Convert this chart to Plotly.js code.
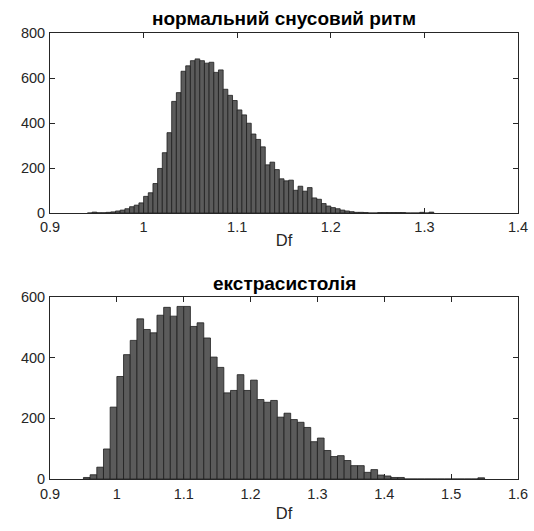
<!DOCTYPE html>
<html>
<head>
<meta charset="utf-8">
<script src="https://cdn.plot.ly/plotly-3.0.1.min.js"></script>
<style>
  html, body { margin: 0; padding: 0; background: #ffffff; }
  #chart { width: 534px; height: 531px; }
</style>
</head>
<body>
<div id="chart"></div>
<script>
// ---- data ----
// Normal sinus rhythm: histogram of Df, bins of 0.005 starting at 0.94
const normTitle = "нормальний снусовий ритм";
const normBinStart = 0.94;
const normBinWidth = 0.005;
const normCounts = [
  0, 4, 1, 1, 3, 5, 9, 13, 19, 28,
  35, 45, 74, 90, 131, 198, 268, 357, 496, 535,
  630, 654, 677, 685, 677, 666, 670, 625, 636, 550,
  523, 500, 458, 436, 399, 351, 327, 294, 214, 226,
  193, 152, 143, 146, 101, 119, 97, 113, 67, 61,
  42, 31, 24, 19, 13, 9, 6, 3, 3, 2,
  0, 0, 2, 2, 2, 2, 2, 2, 0, 0,
  0, 3, 0, 4
];

// Extrasystole: histogram of Df, bins of 0.01 starting at 0.95
const extraTitle = "екстрасистолія";
const extraBinStart = 0.95;
const extraBinWidth = 0.01;
const extraCounts = [
  5, 14, 39, 99, 237, 338, 410, 457, 528, 493,
  482, 540, 566, 537, 569, 569, 503, 515, 465, 402,
  368, 284, 292, 344, 292, 326, 262, 253, 259, 204,
  217, 196, 187, 170, 123, 135, 94, 74, 77, 61,
  44, 44, 22, 31, 13, 10, 5, 5, 0, 0,
  0, 0, 0, 0, 0, 0, 0, 0, 0, 4
];

const xLabel = "Df";
const normXRange = [0.9, 1.4];
const normYRange = [0, 800];
const extraXRange = [0.9, 1.6];
const extraYRange = [0, 600];

// ---- build bins ----
function centers(start, width, counts) {
  return counts.map((_, i) => +(start + width * (i + 0.5)).toFixed(6));
}

const barFill = "#5b5b5b";
const barEdge = "#1e1e1e";
const axisColor = "#262626";
const fontFamily = "Liberation Sans, Arial, Helvetica, sans-serif";

const traces = [
  {
    type: "bar",
    x: centers(normBinStart, normBinWidth, normCounts),
    y: normCounts,
    width: normBinWidth,
    marker: { color: barFill, line: { color: barEdge, width: 0.8 } },
    xaxis: "x", yaxis: "y",
    hoverinfo: "x+y"
  },
  {
    type: "bar",
    x: centers(extraBinStart, extraBinWidth, extraCounts),
    y: extraCounts,
    width: extraBinWidth,
    marker: { color: barFill, line: { color: barEdge, width: 0.8 } },
    xaxis: "x2", yaxis: "y2",
    hoverinfo: "x+y"
  }
];

const axisCommon = {
  showline: true,
  linecolor: axisColor,
  linewidth: 1,
  mirror: "ticks",
  ticks: "inside",
  ticklen: 5,
  tickwidth: 1,
  tickcolor: axisColor,
  showgrid: false,
  zeroline: false,
  layer: "below traces",
  tickfont: { family: fontFamily, size: 14.5, color: axisColor },
  fixedrange: true
};

const layout = {
  width: 534,
  height: 531,
  margin: { l: 50, r: 16, t: 33, b: 52 },
  paper_bgcolor: "#ffffff",
  plot_bgcolor: "#ffffff",
  showlegend: false,
  bargap: 0,
  font: { family: fontFamily, size: 14.5, color: axisColor },
  xaxis: Object.assign({}, axisCommon, {
    domain: [0, 1], anchor: "y", range: normXRange, dtick: 0.1, tick0: 0.9,
    ticklabelstandoff: 1,
    title: { text: xLabel, font: { family: fontFamily, size: 16.5, color: axisColor }, standoff: 0 }
  }),
  yaxis: Object.assign({}, axisCommon, {
    domain: [0.5964, 1], anchor: "x", range: normYRange, dtick: 200, tick0: 0,
    ticklabelstandoff: 1
  }),
  xaxis2: Object.assign({}, axisCommon, {
    domain: [0, 1], anchor: "y2", range: extraXRange, dtick: 0.1, tick0: 0.9,
    ticklabelstandoff: 2,
    title: { text: xLabel, font: { family: fontFamily, size: 16.5, color: axisColor }, standoff: 6 }
  }),
  yaxis2: Object.assign({}, axisCommon, {
    domain: [0, 0.408], anchor: "x2", range: extraYRange, dtick: 200, tick0: 0,
    ticklabelstandoff: 1
  }),
  annotations: [
    {
      text: "<b>" + normTitle + "</b>",
      xref: "paper", yref: "paper", x: 0.5, y: 1.033,
      xanchor: "center", yanchor: "middle", showarrow: false,
      font: { family: fontFamily, size: 19, color: "#000000" }
    },
    {
      text: "<b>" + extraTitle + "</b>",
      xref: "paper", yref: "paper", x: 0.5, y: 0.4383,
      xanchor: "center", yanchor: "middle", showarrow: false,
      font: { family: fontFamily, size: 19, color: "#000000" }
    }
  ]
};

Plotly.newPlot("chart", traces, layout, { displayModeBar: false, staticPlot: true });
</script>
</body>
</html>
